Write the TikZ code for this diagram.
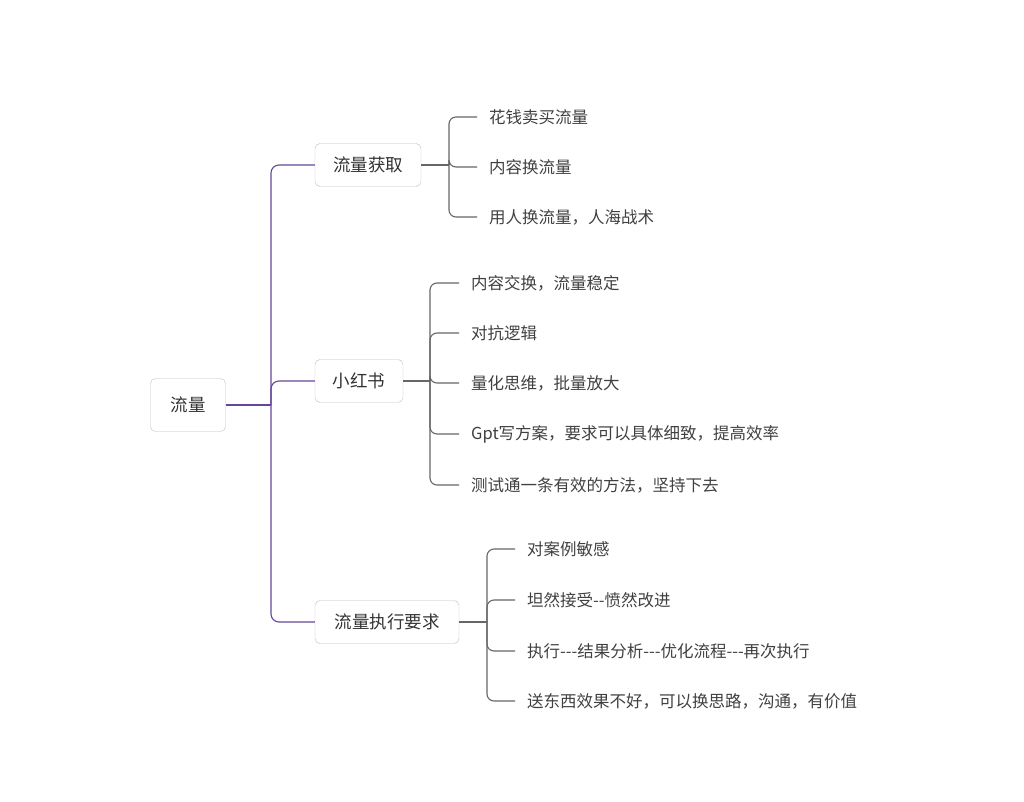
\documentclass[tikz,border=0pt]{standalone}
\usepackage{fontspec}
\setmainfont{Noto Sans CJK SC}
\begin{document}
\begin{tikzpicture}[x=1pt,y=-1pt,
 box/.style={draw=black!25,rounded corners=5pt,fill=white,minimum height=43pt,inner xsep=14pt,font=\fontsize{17.5}{20}\selectfont,text=black!80},
 leaf/.style={anchor=west,inner sep=0pt,font=\fontsize{16.5}{19}\selectfont,text=black!75},
 pl/.style={draw=purple!35!blue!45!gray,line width=1.1pt,rounded corners=8pt},
 gl/.style={draw=black!60,line width=1.1pt,rounded corners=7pt}]
\useasboundingbox (0,0) rectangle (1024,802);
\node[box,minimum width=75pt,minimum height=53pt] (r) at (188,405) {流量};
\node[box,minimum width=106pt] (a) at (368,165) {流量获取};
\node[box,minimum width=88pt] (b) at (359,381) {小红书};
\node[box,minimum width=144pt] (c) at (387,622) {流量执行要求};
\coordinate (t) at (271,405);
\draw[pl] (r.east) -- (t);
\draw[pl] (t) |- (a.west);
\draw[pl] (t) |- (b.west);
\draw[pl] (t) |- (c.west);
% a
\node[leaf] (a1) at (489,117) {花钱卖买流量};
\node[leaf] (a2) at (489,167) {内容换流量};
\node[leaf] (a3) at (489,217) {用人换流量，人海战术};
\coordinate (ta) at (449,165);
\draw[gl] (a.east) -- (ta);
\foreach \n in {a1,a2,a3} \draw[gl] (ta) |- ([xshift=-12pt]\n.west);
% b
\node[leaf] (b1) at (471,283) {内容交换，流量稳定};
\node[leaf] (b2) at (471,333) {对抗逻辑};
\node[leaf] (b3) at (471,383) {量化思维，批量放大};
\node[leaf] (b4) at (471,434) {Gpt写方案，要求可以具体细致，提高效率};
\node[leaf] (b5) at (471,485) {测试通一条有效的方法，坚持下去};
\coordinate (tb) at (430,381);
\draw[gl] (b.east) -- (tb);
\foreach \n in {b1,b2,b3,b4,b5} \draw[gl] (tb) |- ([xshift=-12pt]\n.west);
% c
\node[leaf] (c1) at (527,549) {对案例敏感};
\node[leaf] (c2) at (527,600) {坦然接受{-}{-}愤然改进};
\node[leaf] (c3) at (527,651) {执行{-}{-}{-}结果分析{-}{-}{-}优化流程{-}{-}{-}再次执行};
\node[leaf] (c4) at (527,701) {送东西效果不好，可以换思路，沟通，有价值};
\coordinate (tc) at (487,622);
\draw[gl] (c.east) -- (tc);
\foreach \n in {c1,c2,c3,c4} \draw[gl] (tc) |- ([xshift=-12pt]\n.west);
\end{tikzpicture}
\end{document}
